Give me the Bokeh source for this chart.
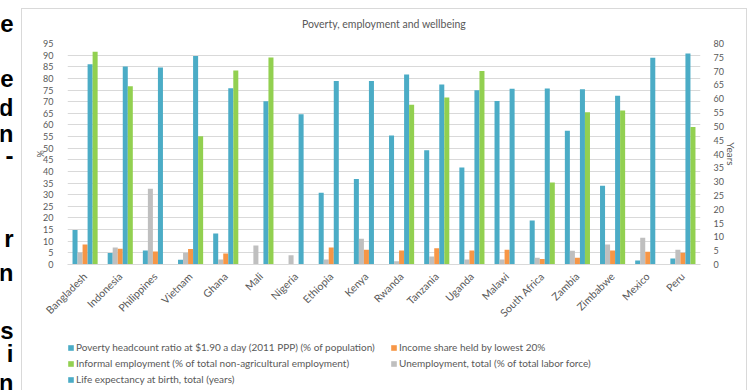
import math
import numpy as np
from bokeh.plotting import figure
from bokeh.layouts import row, column
from bokeh.models import (Range1d, FactorRange, LinearAxis, FixedTicker,
                          Legend, LegendItem, ColumnDataSource)
from bokeh.core.properties import value
from bokeh.transform import dodge
from bokeh.embed import file_html
from bokeh.resources import INLINE

nan = np.nan

countries = ["Bangladesh", "Indonesia", "Philippines", "Vietnam", "Ghana", "Mali",
             "Nigeria", "Ethiopia", "Kenya", "Rwanda", "Tanzania", "Uganda", "Malawi",
             "South Africa", "Zambia", "Zimbabwe", "Mexico", "Peru"]

# % of population living below $1.90 a day
poverty = [14.8, 4.9, 6.0, 2.0, 13.3, nan, nan, 30.8, 36.8, 55.5, 49.1, 41.7,
           70.3, 18.9, 57.5, 33.9, 1.7, 2.6]
# % of total labor force
unemployment = [5.2, 7.3, 32.6, 5.0, 2.2, 8.2, 4.0, 2.2, 11.1, 1.4, 3.4, 2.2,
                2.2, 2.9, 5.9, 8.6, 11.5, 6.3]
# income share held by lowest 20%
income_low20 = [8.6, 6.8, 5.6, 6.7, 4.7, nan, nan, 7.3, 6.3, 6.0, 7.0, 6.0,
                6.3, 2.4, 2.9, 6.0, 5.5, 5.0]
# life expectancy at birth, years (right axis)
life_exp = [72.5, 71.7, 71.3, 75.5, 63.8, 59.1, 54.4, 66.4, 66.4, 68.8, 65.2, 63.1,
            63.6, 63.7, 63.4, 61.1, 74.8, 76.4]
# % of total non-agricultural employment
informal = [91.4, 76.6, nan, 55.1, 83.4, 89.0, nan, nan, nan, 68.7, 71.8, 83.2,
            nan, 35.2, 65.4, 66.2, nan, 59.1]

series_labels = {
    "poverty": "Poverty headcount ratio at $1.90 a day (2011 PPP) (% of population)",
    "income": "Income share held by lowest 20%",
    "informal": "Informal employment (% of total non-agricultural employment)",
    "unemployment": "Unemployment, total (% of total labor force)",
    "life": "Life expectancy at birth, total (years)",
}

left_ticks = list(range(0, 100, 5))
right_ticks = list(range(0, 85, 5))

# fragments of the neighbouring paragraph that run into the left margin
margin_chars = ["e", "e", "d", "n", "-", "r", "n", "s", "i", "n"]
margin_baselines = [23, 78, 107, 133, 155, 238, 272, 330, 353, 382]

src = ColumnDataSource(dict(country=countries, poverty=poverty, unemployment=unemployment,
                            income=income_low20, life=life_exp, informal=informal))

TXT = "#595959"
FONT = "Lato"
BLUE = "#4BACC6"
ORANGE = "#F79646"
GREEN = "#92D050"
GREY = "#BFBFBF"
EDGE = "#d9d9d9"
line = f"linear-gradient({EDGE}, {EDGE})"

# ---- left margin strip -------------------------------------------------
side = figure(width=21, height=390, x_range=Range1d(0, 21), y_range=Range1d(390, 0),
              output_backend="svg", toolbar_location=None,
              x_axis_type=None, y_axis_type=None, min_border=0)
side.outline_line_color = None
side.xgrid.visible = False
side.ygrid.visible = False
side.text(x=[13] * len(margin_chars), y=margin_baselines, text=margin_chars,
          text_align="right", text_baseline="alphabetic",
          text_font=value("Liberation Sans"), text_font_style="bold",
          text_font_size="24px", text_color="black")

# ---- main chart --------------------------------------------------------
p = figure(width=731, height=330, x_range=FactorRange(factors=countries),
           y_range=Range1d(0, 95), output_backend="svg", toolbar_location=None,
           min_border_left=46, min_border_right=52, min_border_top=43,
           min_border_bottom=66, title="Poverty, employment and wellbeing")
p.outline_line_color = None
p.background_fill_color = "white"
p.border_fill_color = None
p.styles = {"background": (f"{line} 0px 8px / 1px 400px no-repeat, "
                           f"{line} 0px 8px / 726px 1px no-repeat, "
                           f"{line} 725px 8px / 1px 400px no-repeat, #ffffff")}

p.title.align = "center"
p.title.text_font = FONT
p.title.text_font_size = "10.5px"
p.title.text_font_style = "normal"
p.title.text_color = TXT
p.title.standoff = 27

# left axis (%)
ya = p.yaxis[0]
ya.ticker = FixedTicker(ticks=left_ticks)
ya.axis_label = "%"
ya.axis_line_color = None
ya.major_tick_line_color = None
ya.minor_tick_line_color = None
ya.major_label_text_color = TXT
ya.major_label_text_font = FONT
ya.major_label_text_font_size = "9px"
ya.major_label_standoff = 8
ya.axis_label_text_font = FONT
ya.axis_label_text_font_size = "9px"
ya.axis_label_text_font_style = "normal"
ya.axis_label_text_color = TXT
ya.axis_label_standoff = -6

p.ygrid.ticker = FixedTicker(ticks=left_ticks)
p.ygrid.grid_line_color = EDGE
p.xgrid.grid_line_color = None

# right axis (years)
p.extra_y_ranges = {"yrs": Range1d(0, 80)}
ra = LinearAxis(y_range_name="yrs", ticker=FixedTicker(ticks=right_ticks), axis_label="Years")
ra.axis_line_color = None
ra.major_tick_line_color = None
ra.minor_tick_line_color = None
ra.major_label_text_color = TXT
ra.major_label_text_font = FONT
ra.major_label_text_font_size = "9px"
ra.major_label_standoff = 7
ra.axis_label_text_font = FONT
ra.axis_label_text_font_size = "10px"
ra.axis_label_text_font_style = "normal"
ra.axis_label_text_color = TXT
ra.axis_label_standoff = -2
p.add_layout(ra, "right")

xa = p.xaxis[0]
xa.axis_line_color = EDGE
xa.major_tick_line_color = None
xa.minor_tick_line_color = None
xa.major_label_orientation = math.pi / 4
xa.major_label_text_color = TXT
xa.major_label_text_font = FONT
xa.major_label_text_font_size = "10.5px"
xa.major_label_standoff = 4

W = 1 / 7
p.vbar(x=dodge("country", -2 * W, range=p.x_range), top="poverty", width=W,
       source=src, color=BLUE, line_color=None)
p.vbar(x=dodge("country", -1 * W, range=p.x_range), top="unemployment", width=W,
       source=src, color=GREY, line_color=None)
p.vbar(x=dodge("country", 0, range=p.x_range), top="income", width=W,
       source=src, color=ORANGE, line_color=None)
p.vbar(x=dodge("country", 1 * W, range=p.x_range), top="life", width=W,
       source=src, color=BLUE, line_color=None, y_range_name="yrs")
p.vbar(x=dodge("country", 2 * W, range=p.x_range), top="informal", width=W,
       source=src, color=GREEN, line_color=None)

# ---- legend strip under the chart ---------------------------------------
leg = figure(width=731, height=60, x_range=Range1d(0, 731), y_range=Range1d(60, 0),
             output_backend="svg", toolbar_location=None,
             x_axis_type=None, y_axis_type=None, min_border=0)
leg.outline_line_color = None
leg.background_fill_color = None
leg.border_fill_color = None
leg.xgrid.visible = False
leg.ygrid.visible = False
leg.styles = {"background": (f"{line} 0px 0px / 1px 60px no-repeat, "
                             f"{line} 725px 0px / 1px 60px no-repeat, #ffffff")}

# legend swatch renderers: one placeholder row each, nothing drawn in the strip
swatch = {}
for key, colour in [("poverty", BLUE), ("income", ORANGE), ("informal", GREEN),
                    ("unemployment", GREY), ("life", BLUE)]:
    swatch[key] = leg.vbar(x=[nan], top=[nan], width=1, color=colour, line_color=None)


def legend_col(keys, x, y):
    lg = Legend(items=[LegendItem(label=series_labels[k], renderers=[swatch[k]]) for k in keys],
                location=(x, y), orientation="vertical")
    lg.border_line_color = None
    lg.background_fill_alpha = 0
    lg.padding = 0
    lg.margin = 0
    lg.spacing = 0
    lg.glyph_width = 7
    lg.glyph_height = 7
    lg.label_height = 16
    lg.label_standoff = 2
    lg.label_text_font = FONT
    lg.label_text_font_size = "10px"
    lg.label_text_color = TXT
    leg.add_layout(lg)


legend_col(["poverty", "informal", "life"], 0, 3)
legend_col(["income", "unemployment"], 323, 19)

open("out.html", "w").write(file_html(row(side, column(p, leg)), INLINE))
